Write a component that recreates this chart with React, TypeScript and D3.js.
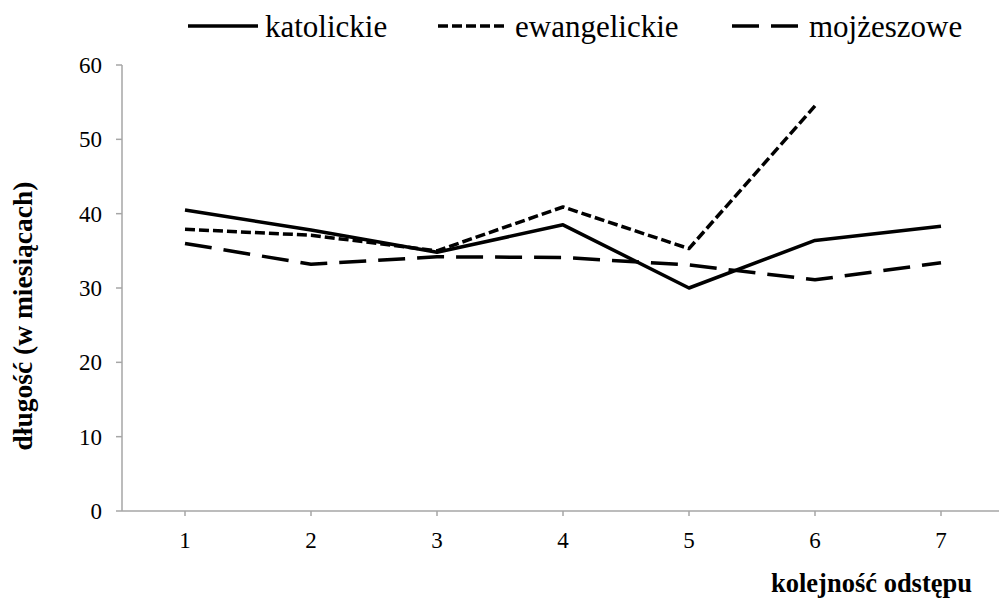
import React from "react";
import * as d3 from "d3";

const categories = ["1", "2", "3", "4", "5", "6", "7"];
const yTicks = [0, 10, 20, 30, 40, 50, 60];
const katolickie: (number | null)[] = [40.5, 37.8, 34.8, 38.5, 30.0, 36.4, 38.3];
const ewangelickie: (number | null)[] = [37.9, 37.1, 35.0, 40.9, 35.3, 54.5, null];
const mojzeszowe: (number | null)[] = [36.0, 33.2, 34.2, 34.1, 33.1, 31.1, 33.4];
const seriesNames = ["katolickie", "ewangelickie", "mojżeszowe"];
const yTitle = "długość (w miesiącach)";
const xTitle = "kolejność odstępu";

const W = 999;
const H = 602;
const axisX = 122;
const font = "Liberation Serif, DejaVu Serif, serif";
const axisColor = "#a6a6a6";
const txt = { fontFamily: font };

export default function App() {
  const x = d3.scaleBand<string>().domain(categories).range([axisX, axisX + 7 * 126]).padding(0);
  const y = d3.scaleLinear().domain([0, 60]).range([511, 65]);
  const cx = (c: string) => (x(c) as number) + x.bandwidth() / 2;

  const line = d3
    .line<number | null>()
    .defined((d) => d !== null)
    .x((_, i) => cx(categories[i]))
    .y((d) => y(d as number));

  const series = [
    { name: seriesNames[0], data: katolickie, dash: "none" },
    { name: seriesNames[1], data: ewangelickie, dash: "10,4" },
    { name: seriesNames[2], data: mojzeszowe, dash: "27,12" },
  ];

  const legendX = [188, 438, 732];

  return (
    <svg
      width={W}
      height={H}
      style={{ position: "absolute", left: 0, top: 0, display: "block", background: "#fff" }}
    >
      {/* y axis */}
      <line x1={axisX} x2={axisX} y1={y(60)} y2={y(0)} stroke={axisColor} strokeWidth={1.5} />
      {yTicks.map((t) => (
        <g key={t}>
          <line x1={axisX - 6} x2={axisX} y1={y(t)} y2={y(t)} stroke={axisColor} strokeWidth={1.5} />
          <text x={102} y={y(t)} dy="0.35em" textAnchor="end" fontSize={23} fill="#000" style={txt}>
            {t}
          </text>
        </g>
      ))}
      {/* x axis */}
      <line x1={axisX} x2={W} y1={y(0)} y2={y(0)} stroke={axisColor} strokeWidth={1.5} />
      {categories.map((c) => (
        <g key={c}>
          <line x1={cx(c)} x2={cx(c)} y1={y(0)} y2={y(0) + 5} stroke={axisColor} strokeWidth={1.5} />
          <text x={cx(c)} y={548} textAnchor="middle" fontSize={23} fill="#000" style={txt}>
            {c}
          </text>
        </g>
      ))}
      {/* series */}
      {series.map((s) => (
        <path
          key={s.name}
          d={line(s.data) || ""}
          fill="none"
          stroke="#000"
          strokeWidth={3.5}
          strokeDasharray={s.dash}
          strokeLinejoin="round"
        />
      ))}
      {/* legend */}
      {series.map((s, i) => (
        <g key={s.name}>
          <line
            x1={legendX[i]}
            x2={legendX[i] + 70}
            y1={26}
            y2={26}
            stroke="#000"
            strokeWidth={3.5}
            strokeDasharray={s.dash}
          />
          <text x={legendX[i] + 77} y={37} fontSize={31} fill="#000" style={txt}>
            {s.name}
          </text>
        </g>
      ))}
      {/* titles */}
      <text
        transform={`translate(32,316) rotate(-90)`}
        textAnchor="middle"
        fontSize={27.5}
        fontWeight="bold"
        fill="#000"
        style={txt}
      >
        {yTitle}
      </text>
      <text x={972} y={592} textAnchor="end" fontSize={26.5} fontWeight="bold" fill="#000" style={txt}>
        {xTitle}
      </text>
    </svg>
  );
}
